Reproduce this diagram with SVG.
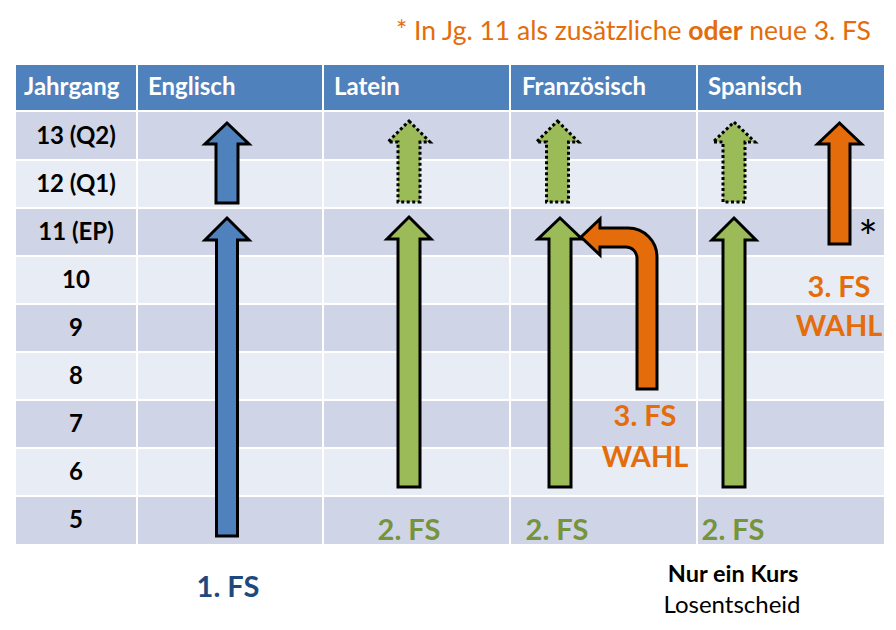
<svg xmlns="http://www.w3.org/2000/svg" width="896" height="630" viewBox="0 0 896 630">
<style>
.t{font-family:Lato,"Liberation Sans",sans-serif}
.hd{font-size:24px;font-weight:bold;fill:#ffffff}
.rl{font-size:24px;font-weight:bold;fill:#000000;text-anchor:middle}
.dk{fill:#cfd5e6}
.lt{fill:#e8ecf4}
.grid{stroke:#ffffff;stroke-width:2}
.solid{stroke:#000000;stroke-width:3;stroke-linejoin:miter}
.dot{stroke:#000000;stroke-width:3;stroke-dasharray:3 2.5}
.bl{fill:#4f81bd}
.gr{fill:#9bbb59}
.or{fill:#e46c0a}
.big{font-size:29px;font-weight:bold;text-anchor:middle}
</style>
<rect width="896" height="630" fill="#ffffff"/>
<text class="t" x="871" y="40" font-size="26.5" fill="#e46c0a" text-anchor="end">* In Jg. 11 als zusätzliche <tspan font-weight="bold">oder</tspan> neue 3. FS</text>
<g id="table">
<rect x="16" y="65" width="868" height="45" fill="#4f81bd"/>
<rect class="dk" x="16" y="112" width="868" height="48"/>
<rect class="lt" x="16" y="160" width="868" height="48"/>
<rect class="dk" x="16" y="208" width="868" height="48"/>
<rect class="lt" x="16" y="256" width="868" height="48"/>
<rect class="dk" x="16" y="304" width="868" height="48"/>
<rect class="lt" x="16" y="352" width="868" height="48"/>
<rect class="dk" x="16" y="400" width="868" height="48"/>
<rect class="lt" x="16" y="448" width="868" height="48"/>
<rect class="dk" x="16" y="496" width="868" height="48"/>
<path class="grid" d="M137 65V544M323 65V544M510 65V544M697 65V544M16 160H884M16 208H884M16 256H884M16 304H884M16 352H884M16 400H884M16 448H884M16 496H884"/>
<g class="t hd">
<text x="24" y="95">Jahrgang</text>
<text x="148" y="95">Englisch</text>
<text x="334" y="95">Latein</text>
<text x="522" y="95">Französisch</text>
<text x="708" y="95">Spanisch</text>
</g>
<g class="t rl">
<text x="76" y="144">13 (Q2)</text>
<text x="76" y="192">12 (Q1)</text>
<text x="76" y="240">11 (EP)</text>
<text x="76" y="288">10</text>
<text x="76" y="336">9</text>
<text x="76" y="384">8</text>
<text x="76" y="432">7</text>
<text x="76" y="480">6</text>
<text x="76" y="528">5</text>
</g>
</g>
<g id="arrows">
<path id="en-upper" class="solid bl" d="M227 123L249 144H238V203H216V144H205Z"/>
<path id="en-lower" class="solid bl" d="M227 218L249 240H237.5V536H216.5V240H205Z"/>
<path id="la-upper" class="dot gr" d="M409 121L430 142H420V202H398V142H388Z"/>
<path id="la-lower" class="solid gr" d="M409 217L431 239H420V487H398V239H387Z"/>
<path id="fr-upper" class="dot gr" d="M557.5 121L578.5 142H568.5V202H546.5V142H536.5Z"/>
<path id="fr-lower" class="solid gr" d="M560 218L582 239H571V487H549V239H538Z"/>
<path id="sp-upper" class="dot gr" d="M734 122L755 142H745V202H723V142H713Z"/>
<path id="sp-lower" class="solid gr" d="M734 218L756 240H745V487H723V240H712Z"/>
<path id="sp-third" class="solid or" d="M839.5 123L861.5 144H850V244H829V144H817.5Z"/>
<path id="fr-third" class="solid or" d="M581 237L600 219V228H628A29 29 0 0 1 657 257V389H637V258A11 11 0 0 0 626 247H600V255Z"/>
</g>
<g id="labels" class="t">
<text x="868" y="254" font-size="46" fill="#000000" text-anchor="middle">*</text>
<text class="big" x="409" y="540" fill="#77933c">2. FS</text>
<text class="big" x="557" y="540" fill="#77933c">2. FS</text>
<text class="big" x="733" y="540" fill="#77933c">2. FS</text>
<text class="big" x="228" y="597" fill="#1f497d">1. FS</text>
<text class="big" x="645" y="426" fill="#e46c0a">3. FS</text>
<text class="big" x="645" y="467" fill="#e46c0a">WAHL</text>
<text class="big" x="839" y="297" fill="#e46c0a">3. FS</text>
<text class="big" x="839" y="336" fill="#e46c0a">WAHL</text>
<text x="733" y="582" font-size="23.5" font-weight="bold" fill="#000000" text-anchor="middle">Nur ein Kurs</text>
<text x="732" y="613" font-size="24" fill="#000000" text-anchor="middle">Losentscheid</text>
</g>
</svg>
